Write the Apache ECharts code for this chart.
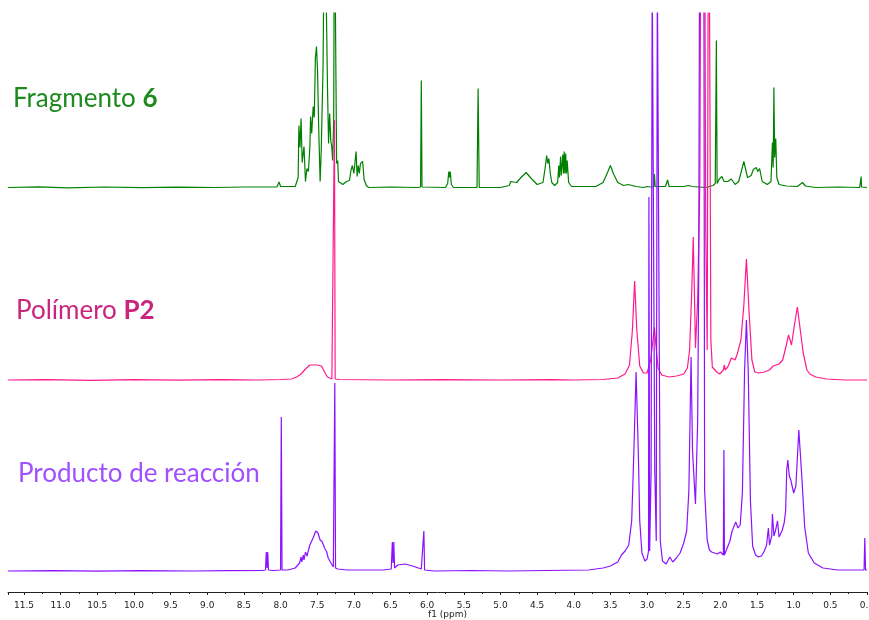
<!DOCTYPE html>
<html>
<head>
<meta charset="utf-8">
<script src="https://cdn.jsdelivr.net/npm/echarts@6/dist/echarts.min.js"></script>
<style>
  html, body { margin: 0; padding: 0; background: #fff; }
  #graphics { width: 869px; height: 620px; }
</style>
</head>
<body>
<div id="graphics"></div>
<script>
// 1H NMR traces, [ppm, relative intensity]
// (values above the top of the plot are peaks that run off the frame)
const fragmentoData = [
    [11.72, 0], [11.3, 0.6], [10.9, -0.3], [10.4, 0.5], [9.9, -0.2], [9.4, 0.4], [8.9, 0], [8.5, 0.5],
    [8.05, 0.5], [8.02, 5.5], [8.0, 1], [7.8, 1], [7.78, 2], [7.76, 10],
    [7.75, 62], [7.735, 40], [7.72, 69], [7.705, 25], [7.68, 41], [7.66, 6],
    [7.64, 19], [7.62, 16], [7.6, 40], [7.59, 71], [7.575, 54], [7.555, 81],
    [7.54, 70], [7.525, 129], [7.51, 141], [7.495, 116], [7.48, 60], [7.46, 6],
    [7.445, 37], [7.42, 121], [7.40, 300], [7.38, 300], [7.37, 154], [7.36, 101],
    [7.345, 44], [7.33, 74], [7.315, 47], [7.30, 40], [7.29, 27], [7.275, 67],
    [7.265, 300], [7.25, 300], [7.235, 24], [7.22, 27], [7.21, 6], [7.15, 3],
    [7.10, 6], [7.06, 7], [7.04, 17], [7.02, 22], [7.0, 14], [6.97, 36],
    [6.955, 11], [6.94, 22], [6.925, 14], [6.91, 24], [6.88, 26], [6.86, 8],
    [6.83, 2], [6.8, 0], [6.5, 0.5], [6.12, 0], [6.09, 0.5], [6.08, 107], [6.07, 0.5],
    [5.75, 0], [5.72, 4], [5.705, 16], [5.695, 10], [5.685, 16], [5.67, 3], [5.64, 0],
    [5.32, 0], [5.305, 99], [5.29, 0], [5.0, 0], [4.88, 2], [4.86, 6], [4.84, 4],
    [4.78, 5], [4.72, 10], [4.65, 15], [4.58, 9], [4.5, 3], [4.42, 5], [4.39, 20],
    [4.37, 32], [4.355, 24], [4.34, 29], [4.32, 14], [4.3, 5], [4.26, 2], [4.22, 5],
    [4.205, 22], [4.195, 10], [4.18, 31], [4.17, 12], [4.15, 33], [4.14, 14],
    [4.13, 36], [4.12, 14], [4.11, 34], [4.10, 14], [4.09, 27], [4.07, 5], [4.03, 1],
    [3.7, 1], [3.6, 5], [3.54, 15], [3.5, 22], [3.46, 14], [3.4, 5], [3.32, 2],
    [3.26, 3], [3.15, 1], [3.05, 0], [3.0, 1], [2.98, 2.5], [2.96, 0.5], [2.91, 1],
    [2.9, 13.5], [2.89, 1], [2.75, 1], [2.72, 7.5], [2.7, 1], [2.5, 1], [2.44, 2],
    [2.38, 1], [2.2, 0], [2.1, 2], [2.07, 4], [2.055, 147], [2.045, 4], [2.02, 8],
    [1.98, 11], [1.95, 6], [1.9, 6], [1.85, 8.5], [1.8, 3], [1.75, 6], [1.68, 26],
    [1.63, 10], [1.58, 12], [1.55, 18], [1.51, 20], [1.49, 16], [1.465, 19],
    [1.43, 6], [1.36, 3], [1.31, 6], [1.29, 45], [1.28, 20], [1.27, 100], [1.26, 30],
    [1.245, 49], [1.23, 10], [1.2, 3], [1.1, 1.5], [0.95, 1], [0.88, 5], [0.84, 1.5],
    [0.7, 0], [0.4, 0.5], [0.1, 0], [0.085, 0.5], [0.08, 11], [0.075, 0.5], [0.0, 0]
];

const polimeroData = [
    [11.72, 0], [11.2, 0.4], [10.6, -0.3], [10.0, 0.3], [9.4, -0.2], [8.8, 0.4], [8.3, 0],
    [8.0, 0.5], [7.85, 1], [7.78, 3], [7.72, 6], [7.66, 11], [7.6, 15], [7.5, 15],
    [7.44, 14], [7.4, 8], [7.36, 3], [7.3, 1], [7.275, 1], [7.265, 260], [7.255, 1],
    [7.2, 0.5], [6.5, 0], [5.8, 0.4], [5.0, 0], [4.3, 0.3], [4.0, 0], [3.6, 0.5],
    [3.4, 2], [3.3, 6], [3.24, 15], [3.2, 50], [3.17, 99], [3.14, 50], [3.1, 14],
    [3.05, 7], [3.0, 7], [2.95, 20], [2.92, 40], [2.9, 53], [2.88, 35], [2.85, 12],
    [2.8, 5], [2.7, 3], [2.6, 4], [2.5, 6], [2.45, 12], [2.42, 30], [2.39, 90],
    [2.37, 143], [2.355, 90], [2.34, 32], [2.31, 80], [2.28, 200], [2.26, 600],
    [2.22, 600], [2.2, 150], [2.18, 30], [2.17, 300], [2.16, 600], [2.15, 600],
    [2.13, 40], [2.11, 13], [2.05, 8], [2.01, 6], [1.96, 10], [1.945, 15], [1.935, 10],
    [1.9, 13], [1.85, 22], [1.83, 24], [1.8, 20], [1.77, 26], [1.72, 40], [1.68, 75],
    [1.645, 121], [1.61, 70], [1.57, 20], [1.53, 8], [1.48, 7], [1.4, 8], [1.33, 10],
    [1.28, 14], [1.2, 16], [1.15, 20], [1.1, 35], [1.07, 45], [1.03, 35], [0.99, 55],
    [0.95, 73], [0.91, 50], [0.87, 27], [0.82, 10], [0.78, 6], [0.7, 3], [0.55, 1],
    [0.3, 0], [0.0, 0]
];

const productoData = [
    [11.72, 0], [11.1, 0.4], [10.5, -0.2], [9.9, 0.4], [9.2, 0], [8.7, 0.3],
    [8.25, 0.5], [8.205, 1], [8.195, 19], [8.185, 3], [8.175, 19], [8.165, 1],
    [8.1, 0.5], [8.0, 1], [7.99, 154], [7.98, 1], [7.9, 1], [7.8, 3], [7.74, 8],
    [7.72, 14], [7.71, 9], [7.69, 16], [7.68, 11], [7.66, 19], [7.64, 15], [7.6, 26],
    [7.55, 34], [7.52, 40], [7.49, 38], [7.46, 31], [7.43, 29], [7.4, 23], [7.37, 19],
    [7.35, 13], [7.32, 9], [7.28, 4], [7.27, 3], [7.26, 188], [7.25, 3], [7.22, 2],
    [7.1, 1], [6.9, 1], [6.6, 1], [6.49, 2], [6.475, 29], [6.465, 8], [6.455, 29],
    [6.445, 3], [6.4, 6], [6.3, 7], [6.2, 5], [6.08, 2], [6.06, 1], [6.045, 40],
    [6.035, 1], [5.9, 0], [5.4, 0.5], [4.9, 0], [4.4, 0.5], [3.8, 1], [3.6, 3],
    [3.5, 5], [3.4, 9], [3.35, 16], [3.3, 20], [3.25, 26], [3.21, 50], [3.18, 120],
    [3.15, 199], [3.12, 120], [3.1, 50], [3.07, 18], [3.03, 10], [3.0, 12], [2.98, 20],
    [2.975, 374], [2.965, 20], [2.945, 100], [2.93, 600], [2.91, 600], [2.895, 100],
    [2.875, 30], [2.86, 600], [2.84, 600], [2.82, 30], [2.79, 10], [2.74, 7], [2.69, 14],
    [2.65, 9], [2.6, 13], [2.55, 18], [2.5, 28], [2.46, 40], [2.43, 80], [2.4, 214],
    [2.38, 120], [2.34, 67], [2.31, 150], [2.295, 300], [2.285, 600], [2.225, 600],
    [2.215, 80], [2.18, 31], [2.15, 21], [2.12, 19], [2.08, 18], [2.04, 17], [2.0, 19],
    [1.96, 16], [1.952, 121], [1.945, 16], [1.92, 18], [1.87, 30], [1.84, 40], [1.79, 49],
    [1.76, 43], [1.73, 46], [1.7, 78], [1.67, 200], [1.645, 251], [1.62, 200], [1.59, 70],
    [1.56, 25], [1.52, 16], [1.48, 14], [1.44, 15], [1.4, 20], [1.37, 26], [1.345, 43],
    [1.33, 26], [1.3, 35], [1.29, 57], [1.27, 35], [1.25, 40], [1.22, 50], [1.2, 34],
    [1.16, 40], [1.13, 48], [1.11, 60], [1.095, 101], [1.08, 111], [1.06, 95],
    [1.04, 91], [1.0, 78], [0.97, 85], [0.93, 141], [0.89, 95], [0.85, 44], [0.8, 18],
    [0.72, 8], [0.6, 3], [0.4, 1], [0.1, 1], [0.04, 1], [0.03, 33], [0.02, 1], [0.0, 1]
];

const spectrumNames = ['Fragmento 6', 'Polímero P2', 'Producto de reacción'];
const lineColors = ['#008000', '#ff1a8c', '#8a12ff'];
const labelColors = ['#1d8a1d', '#c9257c', '#a050ff'];

var myChart = echarts.init(document.getElementById('graphics'));

// each trace gets its own hidden y axis so they stack like the original
function yAxisFor(minV, maxV) {
    return { type: 'value', show: false, min: minV, max: maxV, splitLine: { show: false } };
}

function label(i, top, left, plain, bold) {
    return {
        left: left,
        top: top,
        text: '{a|' + plain + '}{b|' + bold + '}',
        textStyle: {
            fontWeight: 'normal',
            rich: {
                a: { fontFamily: 'Lato', fontSize: 26, fontWeight: 'normal', color: labelColors[i] },
                b: { fontFamily: 'Lato', fontSize: 26, fontWeight: 'bold', color: labelColors[i] }
            }
        }
    };
}

var option = {
    animation: false,
    backgroundColor: '#ffffff',
    title: [
        label(0, 81, 8, 'Fragmento ', '6'),
        label(1, 293, 11, 'Polímero ', 'P2'),
        label(2, 456, 13, 'Producto de reacción', '')
    ],
    grid: { left: 8, right: 2, top: 13, bottom: 28, containLabel: false, outerBoundsMode: 'none' },
    xAxis: {
        type: 'value',
        inverse: true,
        min: 0,
        max: 11.718,
        interval: 0.5,
        axisLine: { show: true, onZero: false, lineStyle: { color: '#222', width: 1 } },
        axisTick: { show: true, inside: false, length: 3, lineStyle: { color: '#222' } },
        minorTick: { show: true, splitNumber: 2, length: 2, lineStyle: { color: '#222' } },
        splitLine: { show: false },
        axisLabel: {
            fontFamily: 'DejaVu Sans',
            fontSize: 9,
            color: '#222',
            margin: 9,
            showMaxLabel: false,
            hideOverlap: false,
            formatter: function (v) { return v.toFixed(1); }
        }
    },
    yAxis: [
        yAxisFor(-404.5, 174.5),
        yAxisFor(-212, 367),
        yAxisFor(-21, 558)
    ],
    graphic: [{
        type: 'text',
        left: 428,
        top: 610,
        style: { text: 'f1 (ppm)', fontFamily: 'DejaVu Sans', fontSize: 9, fill: '#222' }
    }],
    series: [fragmentoData, polimeroData, productoData].map(function (d, i) {
        return {
            name: spectrumNames[i],
            type: 'line',
            yAxisIndex: i,
            data: d,
            symbol: 'none',
            showSymbol: false,
            clip: true,
            z: 2 + i,
            lineStyle: { color: lineColors[i], width: 1.2 }
        };
    })
};

myChart.setOption(option);
</script>
</body>
</html>
